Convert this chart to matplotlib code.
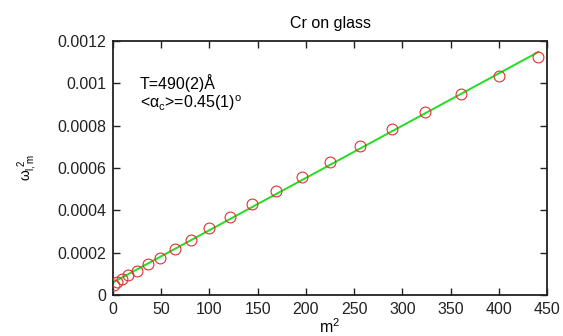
import numpy as np
from matplotlib import pyplot as plt
from matplotlib.ticker import FixedLocator, FuncFormatter

plt.rcParams['font.family'] = ['Liberation Sans', 'DejaVu Sans']
plt.rcParams['mathtext.fontset'] = 'custom'
plt.rcParams['mathtext.rm'] = 'Liberation Sans'
plt.rcParams['mathtext.it'] = 'Liberation Sans'
plt.rcParams['mathtext.sf'] = 'Liberation Sans'

# data (m^2, omega^2)
m_sq = [1, 4, 9, 16, 25, 36, 49, 64, 81, 100, 121, 144, 169, 196,
        225, 256, 289, 324, 361, 400, 441]
omega_sq = [4.7e-5, 6.3e-5, 7.6e-5, 9.4e-5, 1.15e-4, 1.45e-4, 1.76e-4,
            2.16e-4, 2.60e-4, 3.15e-4, 3.70e-4, 4.28e-4, 4.90e-4, 5.56e-4,
            6.30e-4, 7.05e-4, 7.84e-4, 8.66e-4, 9.50e-4, 1.036e-3, 1.126e-3]

# linear fit end points
fit_x = [1, 441]
fit_y = [6.2e-5, 1.148e-3]

x_ticks = [0, 50, 100, 150, 200, 250, 300, 350, 400, 450]
y_ticks = [0, 0.0002, 0.0004, 0.0006, 0.0008, 0.001, 0.0012]

fig = plt.figure(figsize=(5.63, 3.36), dpi=100)
ax = fig.add_axes([0.2007, 0.122, 0.7709, 0.756])

ax.plot(fit_x, fit_y, color='#22dd22', lw=1.4, zorder=2)
ax.plot(m_sq, omega_sq, 'o', mfc='none', mec='#e03030', ms=7.8, mew=0.8, zorder=3)

ax.set_xlim(0, 450)
ax.set_ylim(0, 0.0012)
ax.xaxis.set_major_locator(FixedLocator(x_ticks))
ax.yaxis.set_major_locator(FixedLocator(y_ticks))
ax.yaxis.set_major_formatter(FuncFormatter(lambda v, p: '{:g}'.format(round(v, 6))))
ax.tick_params(direction='in', length=5, width=1, top=True, right=True,
               labelsize=11.5, colors='#222222', pad=5)
for s in ax.spines.values():
    s.set_linewidth(1.3)
    s.set_color('#222222')

ax.set_title('Cr on glass', fontsize=11.5, pad=9)
ax.set_xlabel(r'm$^2$', fontsize=11.5, labelpad=0)
ax.set_ylabel(r'$\omega_{l,m}^{\ 2}$', fontsize=10, labelpad=12)

ax.text(28, 0.001, 'T=490(2)Å', fontsize=11.5, va='center')
ax.text(28, 0.000905, r'<$\alpha_{\rm c}$>=0.45(1)$^{\rm o}$', fontsize=11.5, va='center')

fig.savefig('out.png', dpi=100)
